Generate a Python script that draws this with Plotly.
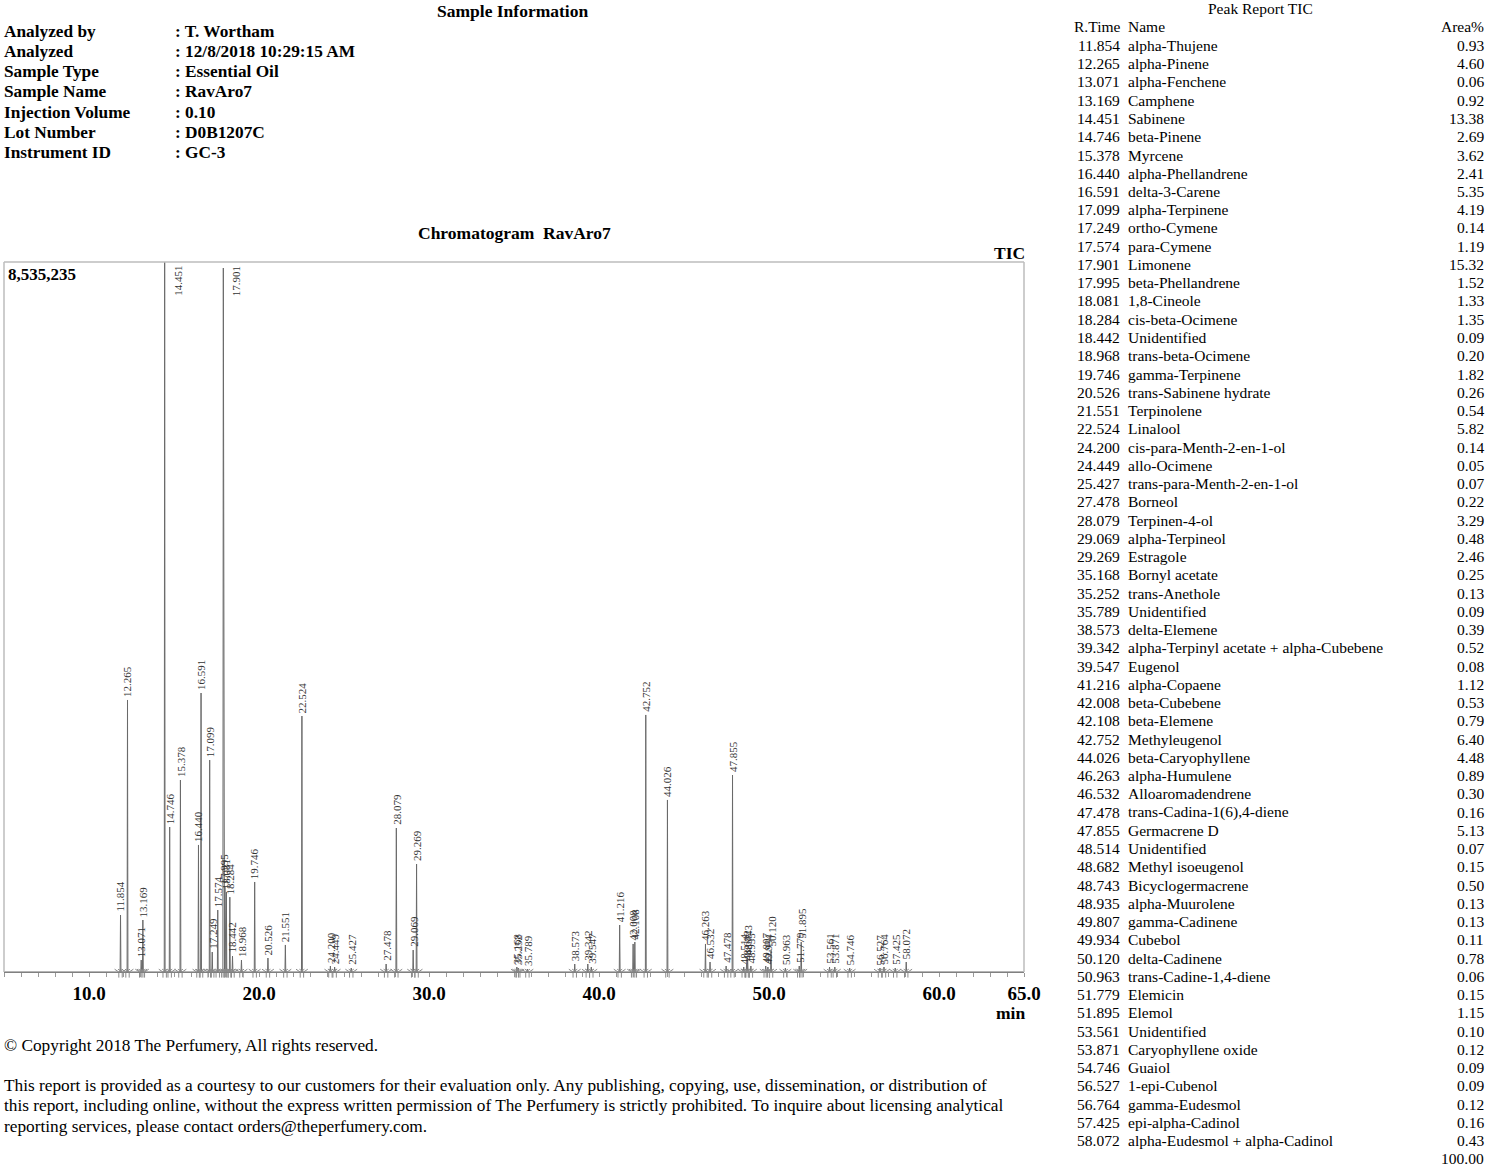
import plotly.graph_objects as go

W, H = 1500, 1169

# ---------------- data ----------------
rt = [11.854, 12.265, 13.071, 13.169, 14.451, 14.746, 15.378, 16.440, 16.591, 17.099,
      17.249, 17.574, 17.901, 17.995, 18.081, 18.284, 18.442, 18.968, 19.746, 20.526,
      21.551, 22.524, 24.200, 24.449, 25.427, 27.478, 28.079, 29.069, 29.269, 35.168,
      35.252, 35.789, 38.573, 39.342, 39.547, 41.216, 42.008, 42.108, 42.752, 44.026,
      46.263, 46.532, 47.478, 47.855, 48.514, 48.682, 48.743, 48.935, 49.807, 49.934,
      50.120, 50.963, 51.779, 51.895, 53.561, 53.871, 54.746, 56.527, 56.764, 57.425,
      58.072]

names = ["alpha-Thujene", "alpha-Pinene", "alpha-Fenchene", "Camphene", "Sabinene",
         "beta-Pinene", "Myrcene", "alpha-Phellandrene", "delta-3-Carene", "alpha-Terpinene",
         "ortho-Cymene", "para-Cymene", "Limonene", "beta-Phellandrene", "1,8-Cineole",
         "cis-beta-Ocimene", "Unidentified", "trans-beta-Ocimene", "gamma-Terpinene",
         "trans-Sabinene hydrate", "Terpinolene", "Linalool", "cis-para-Menth-2-en-1-ol",
         "allo-Ocimene", "trans-para-Menth-2-en-1-ol", "Borneol", "Terpinen-4-ol",
         "alpha-Terpineol", "Estragole", "Bornyl acetate", "trans-Anethole", "Unidentified",
         "delta-Elemene", "alpha-Terpinyl acetate + alpha-Cubebene", "Eugenol",
         "alpha-Copaene", "beta-Cubebene", "beta-Elemene", "Methyleugenol",
         "beta-Caryophyllene", "alpha-Humulene", "Alloaromadendrene",
         "trans-Cadina-1(6),4-diene", "Germacrene D", "Unidentified", "Methyl isoeugenol",
         "Bicyclogermacrene", "alpha-Muurolene", "gamma-Cadinene", "Cubebol",
         "delta-Cadinene", "trans-Cadine-1,4-diene", "Elemicin", "Elemol", "Unidentified",
         "Caryophyllene oxide", "Guaiol", "1-epi-Cubenol", "gamma-Eudesmol",
         "epi-alpha-Cadinol", "alpha-Eudesmol + alpha-Cadinol"]

area = [0.93, 4.60, 0.06, 0.92, 13.38, 2.69, 3.62, 2.41, 5.35, 4.19,
        0.14, 1.19, 15.32, 1.52, 1.33, 1.35, 0.09, 0.20, 1.82, 0.26,
        0.54, 5.82, 0.14, 0.05, 0.07, 0.22, 3.29, 0.48, 2.46, 0.25,
        0.13, 0.09, 0.39, 0.52, 0.08, 1.12, 0.53, 0.79, 6.40, 4.48,
        0.89, 0.30, 0.16, 5.13, 0.07, 0.15, 0.50, 0.13, 0.13, 0.11,
        0.78, 0.06, 0.15, 1.15, 0.10, 0.12, 0.09, 0.09, 0.12, 0.16,
        0.43]
total_area = "100.00"

# peak apex intensities (counts)
height = [685000, 3270000, 144000, 625000, 8535235, 1743000, 2308000, 1527000, 3354000, 2548000,
          240000, 745000, 8463000, 1022000, 962000, 900000, 192000, 144000, 1082000, 168000,
          325000, 3077000, 72000, 60000, 48000, 96000, 1731000, 264000, 1298000, 60000,
          48000, 36000, 96000, 96000, 60000, 565000, 337000, 360000, 3090000, 2068000,
          337000, 120000, 72000, 2368000, 60000, 96000, 168000, 72000, 72000, 60000,
          264000, 48000, 72000, 360000, 60000, 60000, 48000, 48000, 60000, 48000,
          120000]

y_max = 8535235
x_range = [5.0, 65.0]
x_ticks = [10, 20, 30, 40, 50, 60, 65]
x_ticktext = ["10.0", "20.0", "30.0", "40.0", "50.0", "60.0", "65.0"]

info_labels = ["Analyzed by", "Analyzed", "Sample Type", "Sample Name",
               "Injection Volume", "Lot Number", "Instrument ID"]
info_values = [": T. Wortham", ": 12/8/2018 10:29:15 AM", ": Essential Oil", ": RavAro7",
               ": 0.10", ": D0B1207C", ": GC-3"]

# ---------------- styling ----------------
SERIF = "Liberation Serif, Times New Roman, serif"
HW = 0.025  # peak half width (min)

PX_L, PX_R = 4, 1024
PX_T, PX_B = 262, 972


def px(x):
    return x / W


def py(y):
    return 1 - y / H


# chromatogram polyline built from the peak table
xs, ys = [x_range[0]], [0]
for r, h in zip(rt, height):
    xs += [r - HW, r, r + HW]
    ys += [0, h, 0]
xs.append(x_range[1])
ys.append(0)

fig = go.Figure()
fig.add_trace(go.Scatter(x=xs, y=ys, mode="lines",
                         line=dict(color="#6a6a6a", width=1), hoverinfo="skip",
                         cliponaxis=True))

# integration markers
mx, my = [], []
for r in rt:
    mx += [r - 0.1, r + 0.1]
    my += [0, 0]
fig.add_trace(go.Scatter(x=mx, y=my, mode="markers",
                         marker=dict(symbol="y-down-open", size=7, color="#8a8a8a",
                                     line=dict(color="#8a8a8a", width=1)),
                         hoverinfo="skip", cliponaxis=False))

annotations = []

# peak labels
for r, h in zip(rt, height):
    lab = f"{r:.3f}"
    if h >= 0.9 * y_max:
        annotations.append(dict(x=r, y=y_max, xref="x", yref="y", text=lab,
                                textangle=-90, showarrow=False, xanchor="center",
                                yanchor="top", xshift=13, yshift=-2,
                                font=dict(family=SERIF, size=11, color="#333")))
    else:
        annotations.append(dict(x=r, y=h, xref="x", yref="y", text=lab,
                                textangle=-90, showarrow=False, xanchor="center",
                                yanchor="bottom", yshift=1,
                                font=dict(family=SERIF, size=11, color="#333")))


def txt(x, y, s, size=17, bold=False, xanchor="left", color="#000"):
    annotations.append(dict(x=px(x), y=py(y), xref="paper", yref="paper", text=s,
                            showarrow=False, xanchor=xanchor, yanchor="middle",
                            font=dict(family=SERIF, size=size, color=color,
                                      weight="bold" if bold else "normal")))


# header / sample info
txt(512, 11, "Sample Information", 17.5, True, "center")
for i, (lab, val) in enumerate(zip(info_labels, info_values)):
    y = 31 + i * 20.3
    txt(2, y, lab, 17.3, True)
    txt(173, y, val, 17.3, True)

txt(514, 233, "Chromatogram  RavAro7", 17.5, True, "center")
txt(1027, 253, "TIC", 17.5, True, "right")
txt(6, 274, f"{y_max:,}", 17, True)
txt(1027, 1013, "min", 17.5, True, "right")

# footer
txt(2, 1045, "© Copyright 2018 The Perfumery, All rights reserved.", 17.3)
foot = ["This report is provided as a courtesy to our customers for their evaluation only. Any publishing, copying, use, dissemination, or distribution of",
        "this report, including online, without the express written permission of The Perfumery is strictly prohibited. To inquire about licensing analytical",
        "reporting services, please contact orders@theperfumery.com."]
for i, line in enumerate(foot):
    txt(2, 1085 + i * 20.6, line, 17.3)

# peak report table
TF = 15.5
txt(1260, 9, "Peak Report TIC", TF, False, "center")
txt(1122, 27, "R.Time", TF, False, "right")
txt(1126, 27, "Name", TF, False, "left")
txt(1486, 27, "Area%", TF, False, "right")
for i, (r, n, a) in enumerate(zip(rt, names, area)):
    y = 45.5 + i * 18.25
    txt(1122, y, f"{r:.3f}", TF, False, "right")
    txt(1126, y, n, TF, False, "left")
    txt(1486, y, f"{a:.2f}", TF, False, "right")
txt(1486, 45.5 + len(rt) * 18.25, total_area, TF, False, "right")

# frame (left, top, right)
shapes = [
    dict(type="line", xref="paper", yref="paper", x0=px(PX_L), y0=py(PX_B), x1=px(PX_L), y1=py(PX_T),
         line=dict(color="#bdbdbd", width=1.5)),
    dict(type="line", xref="paper", yref="paper", x0=px(PX_L), y0=py(PX_T), x1=px(PX_R), y1=py(PX_T),
         line=dict(color="#bdbdbd", width=1.5)),
    dict(type="line", xref="paper", yref="paper", x0=px(PX_R), y0=py(PX_T), x1=px(PX_R), y1=py(PX_B),
         line=dict(color="#bdbdbd", width=1.5)),
]

fig.update_layout(
    width=W, height=H, margin=dict(l=0, r=0, t=0, b=0, pad=0, autoexpand=False),
    paper_bgcolor="white", plot_bgcolor="white", showlegend=False,
    annotations=annotations, shapes=shapes,
    xaxis=dict(domain=[px(PX_L), px(PX_R)], range=x_range, showgrid=False, zeroline=False,
               automargin=False,
               showline=True, linecolor="#808080", linewidth=1,
               ticks="outside", ticklen=4, tickcolor="#9a9a9a",
               tickvals=x_ticks, ticktext=x_ticktext,
               tickfont=dict(family=SERIF, size=19, color="#000", weight="bold"),
               minor=dict(dtick=1, ticks="outside", ticklen=4, tickcolor="#9a9a9a", showgrid=False)),
    yaxis=dict(domain=[py(PX_B), py(PX_T)], range=[0, y_max], visible=False, fixedrange=True,
               automargin=False),
)

fig.write_html("out.html", config={"displayModeBar": False},
               post_script="document.body.style.margin='0';document.body.style.padding='0';")
